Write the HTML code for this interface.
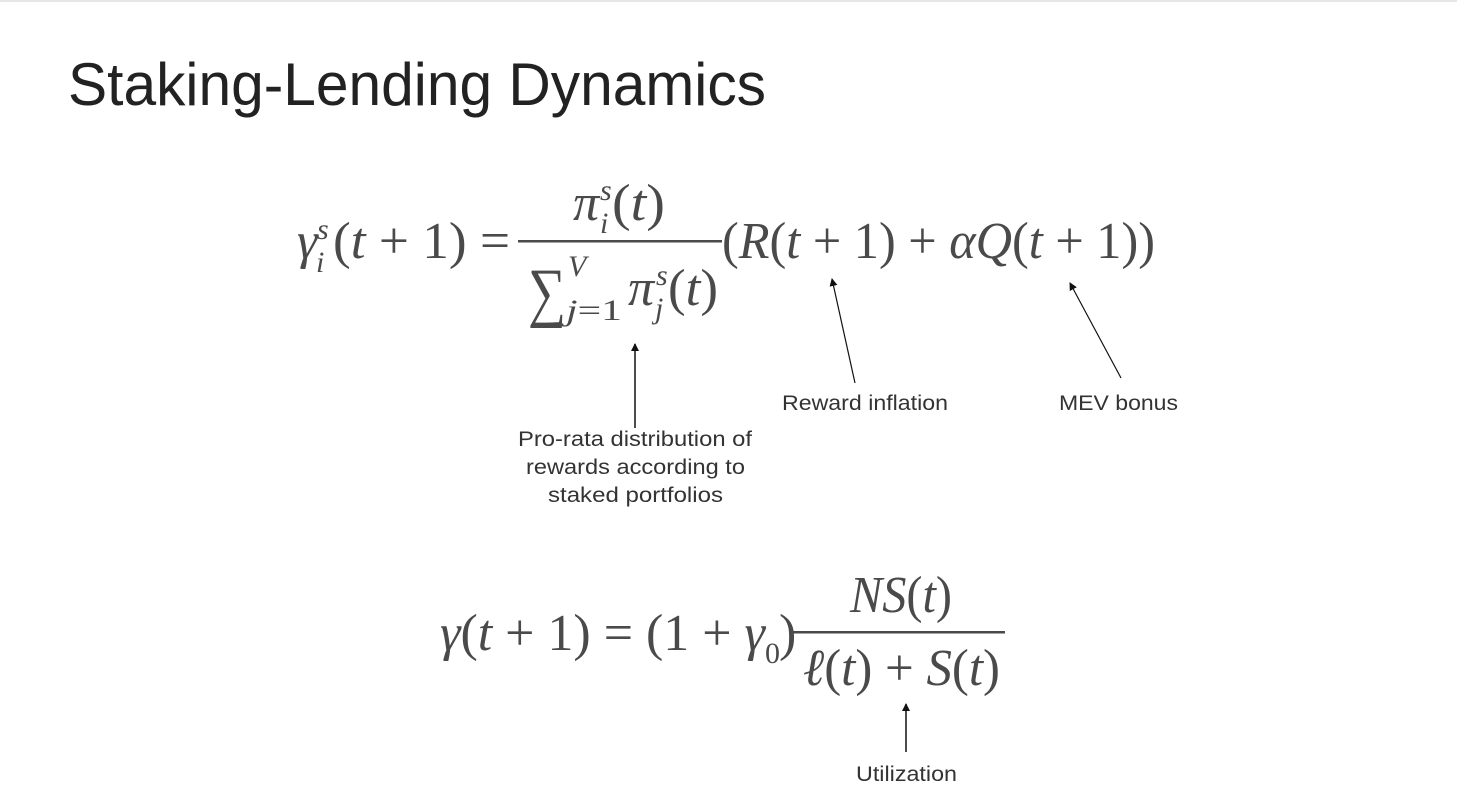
<!DOCTYPE html>
<html><head><meta charset="utf-8"><style>
html,body{margin:0;padding:0;background:#fff;}
svg{display:block}
.m{font-family:"Liberation Serif",serif;fill:#4a4a4a;}
.i{font-style:italic}
.s{font-family:"Liberation Sans",sans-serif;fill:#333;font-size:21px}
</style></head><body>
<svg width="1457" height="801" xmlns="http://www.w3.org/2000/svg">
<rect x="0" y="0" width="1457" height="2" fill="#e6e6e6"/>
<text x="68" y="105" font-family="Liberation Sans, sans-serif" font-size="60" font-weight="300" fill="#222" textLength="698" lengthAdjust="spacingAndGlyphs">Staking-Lending Dynamics</text>
<defs><marker id="a" markerWidth="8" markerHeight="8" refX="7" refY="4" orient="auto" markerUnits="userSpaceOnUse"><path d="M0,0 L8,4 L0,8 z" fill="#111"/></marker></defs>

<!-- eq 1 -->
<g class="m" font-size="52">
<text x="297" y="258" class="i">γ</text>
<text x="317" y="239" class="i" font-size="30">s</text>
<text x="316" y="272" class="i" font-size="30">i</text>
<text x="333" y="258" textLength="177" lengthAdjust="spacingAndGlyphs">(<tspan class="i">t</tspan> + 1) =</text>
<text x="573" y="220" class="i">π</text>
<text x="600" y="200" class="i" font-size="30">s</text>
<text x="600" y="233" class="i" font-size="30">i</text>
<text x="612" y="220" textLength="53" lengthAdjust="spacingAndGlyphs">(<tspan class="i">t</tspan>)</text>
<rect x="518" y="240" width="204" height="2.5" fill="#4a4a4a"/>
<text x="528" y="314" font-size="66" textLength="38" lengthAdjust="spacingAndGlyphs">∑</text>
<text x="568" y="276" class="i" font-size="30">V</text>
<text x="566" y="320" font-size="30" textLength="56" lengthAdjust="spacingAndGlyphs"><tspan class="i">j</tspan>=1</text>
<text x="628" y="305" class="i">π</text>
<text x="656" y="285" class="i" font-size="30">s</text>
<text x="655" y="318" class="i" font-size="30">j</text>
<text x="668" y="305" textLength="50" lengthAdjust="spacingAndGlyphs">(<tspan class="i">t</tspan>)</text>
<text x="722" y="258" textLength="433" lengthAdjust="spacingAndGlyphs">(<tspan class="i">R</tspan>(<tspan class="i">t</tspan> + 1) + <tspan class="i">αQ</tspan>(<tspan class="i">t</tspan> + 1))</text>
</g>

<line x1="635" y1="428" x2="635" y2="344" stroke="#111" stroke-width="1.5" marker-end="url(#a)"/>
<line x1="855" y1="383" x2="832" y2="279" stroke="#111" stroke-width="1.2" marker-end="url(#a)"/>
<line x1="1121" y1="378" x2="1070" y2="283" stroke="#111" stroke-width="1.2" marker-end="url(#a)"/>
<line x1="906" y1="752" x2="906" y2="704" stroke="#111" stroke-width="1.5" marker-end="url(#a)"/>

<text class="s" x="782" y="410" textLength="166" lengthAdjust="spacingAndGlyphs">Reward inflation</text>
<text class="s" x="1059" y="410" textLength="119" lengthAdjust="spacingAndGlyphs">MEV bonus</text>
<text class="s" x="518" y="446" textLength="234" lengthAdjust="spacingAndGlyphs">Pro-rata distribution of</text>
<text class="s" x="526" y="474" textLength="219" lengthAdjust="spacingAndGlyphs">rewards according to</text>
<text class="s" x="548" y="502" textLength="175" lengthAdjust="spacingAndGlyphs">staked portfolios</text>
<text class="s" x="856" y="781" textLength="101" lengthAdjust="spacingAndGlyphs">Utilization</text>

<!-- eq 2 -->
<g class="m" font-size="52">
<text x="440" y="650" textLength="325" lengthAdjust="spacingAndGlyphs"><tspan class="i">γ</tspan>(<tspan class="i">t</tspan> + 1) = (1 + <tspan class="i">γ</tspan></text>
<text x="765" y="663" font-size="30">0</text>
<text x="779" y="650">)</text>
<rect x="793" y="631" width="212" height="2.5" fill="#4a4a4a"/>
<text x="850" y="612" textLength="102" lengthAdjust="spacingAndGlyphs"><tspan class="i">NS</tspan>(<tspan class="i">t</tspan>)</text>
<text x="803" y="685" textLength="197" lengthAdjust="spacingAndGlyphs"><tspan class="i">ℓ</tspan>(<tspan class="i">t</tspan>) + <tspan class="i">S</tspan>(<tspan class="i">t</tspan>)</text>
</g>
</svg>
</body></html>
